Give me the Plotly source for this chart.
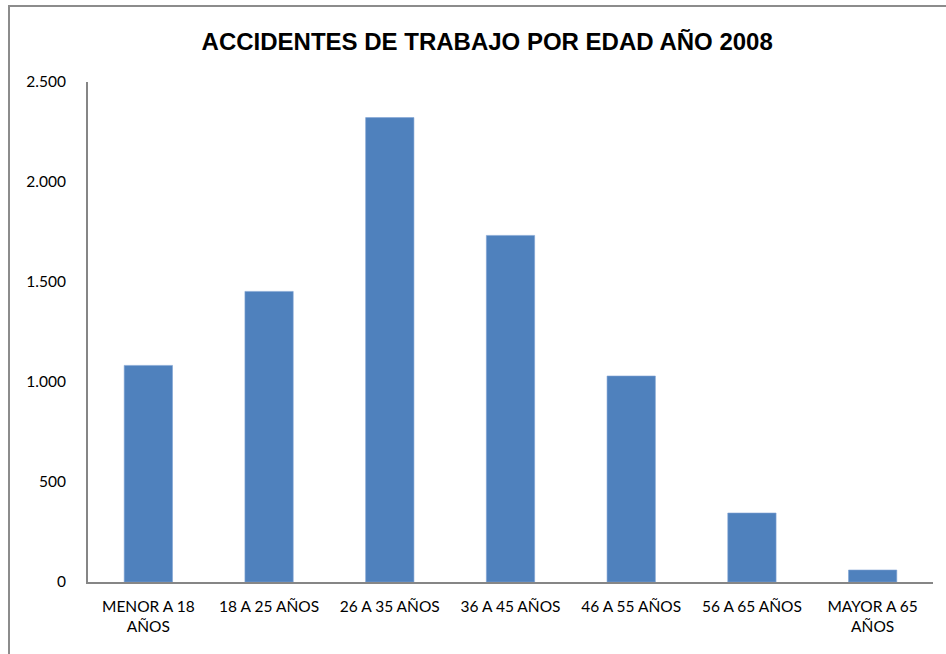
import plotly.graph_objects as go

# data
categorias = ["MENOR A 18<br>AÑOS", "18 A 25 AÑOS", "26 A 35 AÑOS", "36 A 45 AÑOS",
              "46 A 55 AÑOS", "56 A 65 AÑOS", "MAYOR A 65<br>AÑOS"]
accidentes = [1083, 1453, 2322, 1733, 1030, 345, 60]
y_ticks = [0, 500, 1000, 1500, 2000, 2500]
y_tick_labels = ["0", "500", "1.000", "1.500", "2.000", "2.500"]

fig = go.Figure()
fig.add_trace(go.Bar(
    x=categorias,
    y=accidentes,
    marker=dict(color="#4F81BD", line=dict(color="#7FA3D3", width=0.6)),
    width=0.4,
))

fig.update_layout(
    width=946, height=654,
    margin=dict(l=88, r=13, t=82, b=72),
    paper_bgcolor="white",
    plot_bgcolor="white",
    showlegend=False,
    title=dict(
        text="<b>ACCIDENTES DE TRABAJO POR EDAD AÑO 2008</b>",
        x=0.515, xanchor="center",
        y=1 - 42 / 654, yanchor="middle",
        font=dict(family="Liberation Sans, Arial", size=24, color="black"),
    ),
    font=dict(family="Lato, sans-serif", size=15.5, color="black"),
    bargap=0.6,
)

fig.update_xaxes(
    showline=True, linecolor="#868686", linewidth=2,
    showgrid=False, ticks="", ticklabelstandoff=9,
)
fig.update_yaxes(
    range=[0, 2500],
    tickvals=y_ticks, ticktext=y_tick_labels,
    showline=True, linecolor="#868686", linewidth=2,
    showgrid=False, ticks="", ticklabelstandoff=17,
    zeroline=False,
)

# outer frame of the spreadsheet chart (right and bottom edges run off the picture)
fig.add_shape(
    type="rect", xref="paper", yref="paper",
    x0=(9 - 88) / 845, x1=1.2, y0=-0.3, y1=(582 - 6) / 500,
    line=dict(color="#8C8C8C", width=2),
)

# drop the browser's default 8px body margin so the figure sits at (0, 0)
fig.write_html("out.html", config={"displayModeBar": False},
               post_script="document.body.style.margin='0';")
